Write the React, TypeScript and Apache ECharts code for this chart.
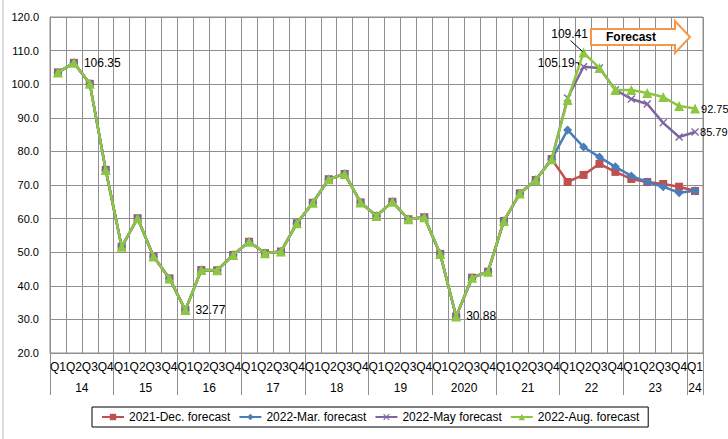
import React, { useEffect, useRef } from "react";
import * as echarts from "echarts";

const quarterLabels = ["Q1", "Q2", "Q3", "Q4"];
const years = ["14", "15", "16", "17", "18", "19", "2020", "21", "22", "23", "24"];
const quartersPerYear = [4, 4, 4, 4, 4, 4, 4, 4, 4, 4, 1];

// 2014Q1 .. 2021Q4 (shared actuals)
const history = [
  103.5, 106.35, 100.1, 74.5,
  51.6, 60.1, 48.7, 42.2,
  32.77, 44.7, 44.6, 49.2,
  53.1, 49.7, 50.2, 58.6,
  64.7, 71.7, 73.3, 64.8,
  60.8, 65.0, 59.8, 60.4,
  49.5, 30.88, 42.4, 44.2,
  59.3, 67.5, 71.5, 77.7,
];
// 2022Q1 .. 2024Q1 forecasts
const decForecast = [70.9, 73.0, 76.3, 73.9, 71.8, 70.9, 70.3, 69.5, 68.2];
const marForecast = [86.4, 81.3, 78.3, 75.4, 72.7, 70.9, 69.5, 67.7, 68.3];
const mayForecast = [95.9, 105.19, 104.8, 98.3, 95.6, 94.1, 88.5, 84.3, 85.79];
const augForecast = [95.3, 109.41, 104.8, 98.3, 98.3, 97.4, 96.2, 93.5, 92.75];

const seriesNames = [
  "2021-Dec. forecast",
  "2022-Mar. forecast",
  "2022-May forecast",
  "2022-Aug. forecast",
];
const seriesColors = ["#C0504D", "#4A7EBB", "#8064A2", "#8DC641"];

const FONT = "'Liberation Sans', Arial, sans-serif";
const GRID = "#8f8f8f";

export default function App() {
  const ref = useRef<HTMLDivElement>(null);

  useEffect(() => {
    if (!ref.current) return;
    const chart = echarts.init(ref.current, null, { renderer: "svg" });

    const categories: string[] = [];
    quartersPerYear.forEach((n) => {
      for (let q = 0; q < n; q++) categories.push(quarterLabels[q]);
    });

    // half-quarter steps for the year row
    const halfSteps: string[] = new Array(categories.length * 2 + 1).fill("");
    const boundaries: Set<number> = new Set();
    let start = 0;
    years.forEach((y, i) => {
      const n = quartersPerYear[i];
      boundaries.add(start * 2);
      halfSteps[start * 2 + n] = y;
      start += n;
    });
    boundaries.add(start * 2);

    const full = (f: number[]) => history.concat(f);
    const peakIdx = history.length + 1;
    const lastIdx = history.length + decForecast.length - 1;

    const labelIdx: Record<number, number[]> = {
      2: [peakIdx, lastIdx],
      3: [1, 8, 25, peakIdx, lastIdx],
    };

    const xSymbol =
      "path://M0,1.2L1.2,0L5,3.8L8.8,0L10,1.2L6.2,5L10,8.8L8.8,10L5,6.2L1.2,10L0,8.8L3.8,5Z";
    const symbols = ["rect", "diamond", xSymbol, "triangle"];
    const symbolSizes = [8, 9, 8, 10];
    const datas = [full(decForecast), full(marForecast), full(mayForecast), full(augForecast)];

    const series = datas.map((d, si) => ({
      type: "line",
      name: seriesNames[si],
      data: d.map((v, i) => {
        if (labelIdx[si] && labelIdx[si].includes(i)) {
          let pos = "right";
          let dist = 5;
          let fs = 12;
          if (i === peakIdx) pos = si === 3 ? "top" : "left";
          if (i === lastIdx) {
            dist = 1;
            fs = 11;
          }
          return {
            value: v,
            label: {
              show: true,
              position: pos,
              distance: dist,
              formatter: v.toFixed(2),
              color: "#000",
              fontSize: fs,
              fontFamily: FONT,
            },
          };
        }
        return v;
      }),
      symbol: symbols[si],
      symbolSize: symbolSizes[si],
      showAllSymbol: true,
      color: seriesColors[si],
      lineStyle: { width: 2.5, color: seriesColors[si] },
      itemStyle: { color: seriesColors[si] },
      z: 2 + si,
      labelLayout: (p: any) => {
        if (p.dataIndex === peakIdx && si === 3) return { dx: -14, dy: -3 };
        if (p.dataIndex === peakIdx && si === 2) return { dx: 0, dy: -4 };
        return {};
      },
    }));

    const option: any = {
      animation: false,
      backgroundColor: "#fff",
      textStyle: { fontFamily: FONT },
      grid: {
        left: 50,
        right: 25,
        top: 17,
        bottom: 86,
        show: true,
        borderColor: GRID,
        borderWidth: 1,
      },
      legend: {
        data: seriesNames,
        left: 92,
        bottom: 12,
        borderColor: "#000",
        borderWidth: 1,
        padding: [4, 9],
        itemGap: 8,
        itemWidth: 22,
        itemHeight: 8,
        textStyle: { fontSize: 12, color: "#000", fontFamily: FONT },
      },
      xAxis: [
        {
          type: "category",
          data: categories,
          boundaryGap: true,
          axisLine: { lineStyle: { color: GRID } },
          axisTick: { show: false },
          axisLabel: { interval: 0, fontSize: 12, color: "#000", margin: 8, fontFamily: FONT },
          splitLine: { show: true, interval: 0, lineStyle: { color: GRID, width: 1 } },
        },
        {
          type: "category",
          data: halfSteps,
          boundaryGap: false,
          position: "bottom",
          axisLine: { show: false },
          axisTick: {
            show: true,
            interval: (i: number) => boundaries.has(i),
            length: 42,
            lineStyle: { color: GRID },
          },
          axisLabel: { interval: 0, fontSize: 12, color: "#000", margin: 29, fontFamily: FONT },
          splitLine: { show: false },
        },
      ],
      yAxis: {
        type: "value",
        min: 20,
        max: 120,
        interval: 10,
        axisLine: { show: true, lineStyle: { color: GRID } },
        axisTick: { show: false },
        axisLabel: {
          formatter: (v: number) => v.toFixed(1),
          fontSize: 11,
          color: "#000",
          margin: 11,
          fontFamily: FONT,
        },
        splitLine: { show: true, lineStyle: { color: GRID, width: 1 } },
      },
      series,
    };

    chart.setOption(option);

    // leader lines and decorations, anchored through the chart's own scales
    const pGreen = chart.convertToPixel({ xAxisIndex: 0, yAxisIndex: 0 }, [peakIdx, augForecast[1]]);
    const pPurple = chart.convertToPixel({ xAxisIndex: 0, yAxisIndex: 0 }, [peakIdx, mayForecast[1]]);

    chart.setOption({
      graphic: [
        {
          type: "line",
          shape: { x1: 3, y1: 0, x2: 3, y2: 439 },
          style: { stroke: "#bdbdbd", lineWidth: 1 },
        },
        {
          type: "line",
          z: 50,
          shape: { x1: pGreen[0] - 13, y1: pGreen[1] - 12, x2: pGreen[0] - 1, y2: pGreen[1] - 1 },
          style: { stroke: "#000", lineWidth: 1 },
        },
        {
          type: "polyline",
          z: 50,
          shape: {
            points: [
              [pPurple[0] - 8, pPurple[1] - 4],
              [pPurple[0] - 5, pPurple[1] - 4],
              [pPurple[0] - 5, pPurple[1] - 2],
            ],
          },
          style: { stroke: "#000", lineWidth: 1, fill: "none" },
        },
        {
          type: "polygon",
          z: 100,
          shape: {
            points: [
              [591, 29],
              [675, 29],
              [675, 21],
              [690, 37],
              [675, 53],
              [675, 45],
              [591, 45],
            ],
          },
          style: { fill: "#fff", stroke: "#F79646", lineWidth: 2 },
        },
        {
          type: "text",
          z: 101,
          x: 631,
          y: 37,
          style: {
            text: "Forecast",
            fill: "#000",
            font: "bold 12px " + FONT,
            align: "center",
            verticalAlign: "middle",
          },
        },
      ],
    });

    return () => chart.dispose();
  }, []);

  return (
    <div
      ref={ref}
      style={{ position: "absolute", left: 0, top: 0, width: 728, height: 439 }}
    />
  );
}
